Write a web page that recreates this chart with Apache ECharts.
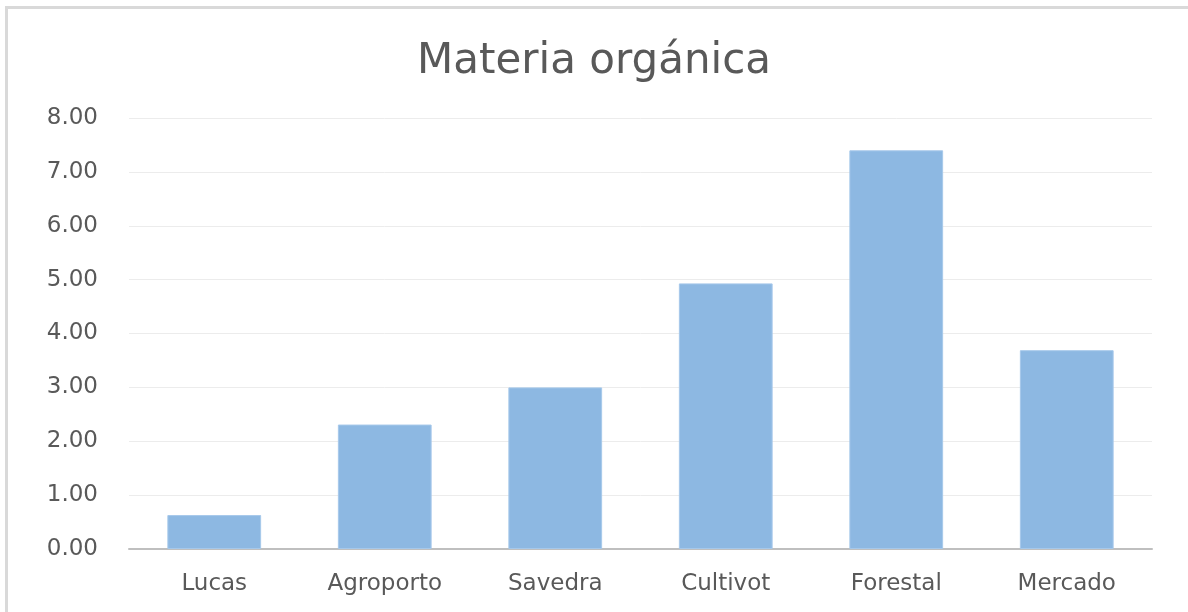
<!DOCTYPE html>
<html>
<head>
<meta charset="utf-8">
<script src="https://cdn.jsdelivr.net/npm/echarts@6/dist/echarts.min.js"></script>
<style>
  html, body { margin: 0; padding: 0; background: #fff; }
  #chart { width: 1188px; height: 612px; }
</style>
</head>
<body>
<div id="chart"></div>
<script>
const categories = ["Lucas", "Agroporto", "Savedra", "Cultivot", "Forestal", "Mercado"];
const materiaOrganica = [0.63, 2.31, 3.0, 4.93, 7.4, 3.69];
const yTicks = { min: 0, max: 8, interval: 1 };

const chart = echarts.init(document.getElementById("chart"));

const option = {
  backgroundColor: "#fff",
  title: {
    text: "Materia orgánica",
    left: "center",
    top: 36,
    textStyle: {
      fontFamily: "DejaVu Sans",
      fontSize: 42,
      fontWeight: "normal",
      color: "#595959",
    },
  },
  // frame of the chart area (only left and top edges are visible)
  graphic: [
    {
      type: "polyline",
      shape: { points: [[6.5, 700], [6.5, 7.5], [1300, 7.5]] },
      style: { fill: null, stroke: "#d9d9d9", lineWidth: 3 },
      silent: true,
    },
  ],
  grid: { left: 129, right: 36, top: 118, bottom: 63, containLabel: false },
  xAxis: {
    type: "category",
    data: categories,
    axisLine: { lineStyle: { color: "#bfbfbf", width: 2 } },
    axisTick: { show: false },
    axisLabel: {
      color: "#595959",
      fontFamily: "DejaVu Sans",
      fontSize: 23,
      margin: 24,
    },
  },
  yAxis: {
    type: "value",
    min: yTicks.min,
    max: yTicks.max,
    interval: yTicks.interval,
    axisLine: { show: false },
    axisTick: { show: false },
    splitLine: { lineStyle: { color: "#ececec", width: 1 } },
    axisLabel: {
      color: "#595959",
      fontFamily: "DejaVu Sans",
      fontSize: 23,
      margin: 31,
      formatter: (v) => v.toFixed(2),
    },
  },
  series: [
    {
      name: "Materia orgánica",
      type: "bar",
      data: materiaOrganica,
      barCategoryGap: "45%",
      itemStyle: { color: "#8db8e2", borderColor: "#a6c8ea", borderWidth: 1 },
    },
  ],
  animation: false,
};

chart.setOption(option);
</script>
</body>
</html>
